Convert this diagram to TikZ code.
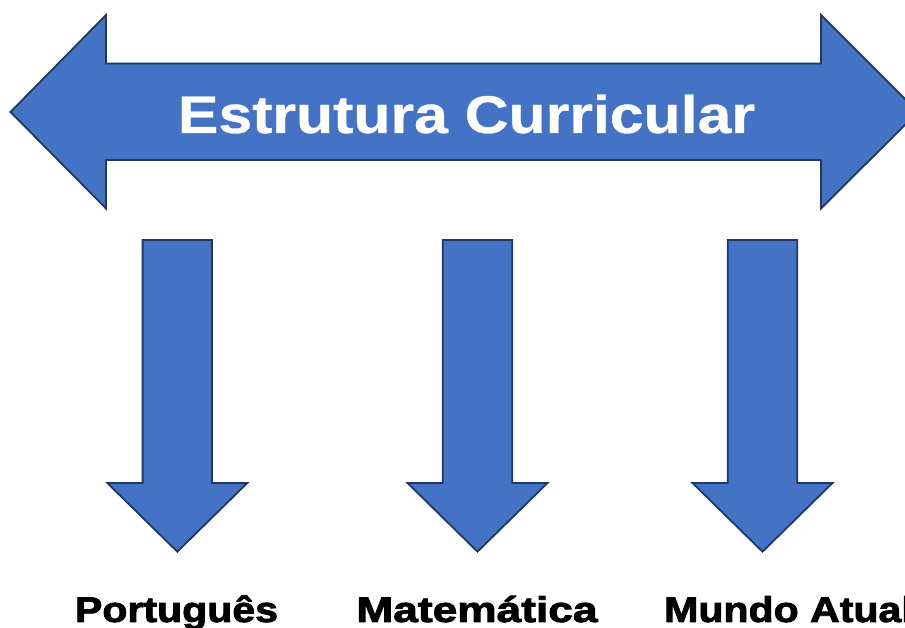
\documentclass[tikz,border=0pt]{standalone}
\usepackage{graphicx}
\usepackage{fontspec}
\setmainfont{Liberation Sans}
\newfontfamily\labelfont[FakeBold=2.2]{Liberation Sans Bold}
\newfontfamily\titlefont[FakeBold=0.6]{Liberation Sans Bold}
\definecolor{arrowfill}{HTML}{4472C4}
\definecolor{arrowline}{HTML}{1F3864}
\tikzset{
  blockarrow/.style={fill=arrowfill, draw=arrowline, line width=1.8pt, line join=miter},
  titletext/.style={text=white, font=\titlefont\fontsize{53}{60}\selectfont, anchor=base, inner sep=0pt},
  labeltext/.style={text=black, font=\labelfont\fontsize{35.7}{40}\selectfont, anchor=base, inner sep=0pt}
}
\begin{document}
\begin{tikzpicture}[x=1pt,y=1pt]
\useasboundingbox (0,0) rectangle (905,628);
\clip (0,0) rectangle (905,628);
% big double arrow
\draw[blockarrow] (10.5,516) -- (106,613) -- (106,564.5) -- (821,564.5) -- (821,613)
  -- (918,516) -- (821,419.5) -- (821,468) -- (106,468) -- (106,419.5) -- cycle;
\node[titletext] (title) at (466.5,495) {\scalebox{1.146}[1]{Estrutura Curricular}};
% down arrows
\foreach \cx/\nm in {177.3/a, 477.5/b, 762.5/c}{
  \draw[blockarrow] (\cx-34.7,388) -- (\cx+34.7,388) -- (\cx+34.7,145) -- (\cx+70,145)
    -- (\cx,76.3) -- (\cx-70,145) -- (\cx-34.7,145) -- cycle;
}
\node[labeltext] (port) at (176.5,6) {\scalebox{1.15}[1]{Português}};
\node[labeltext] (mat) at (477,6) {\scalebox{1.24}[1]{Matemática}};
\node[labeltext, anchor=base west] (mundo) at (664,6) {\scalebox{1.15}[1]{Mundo Atual}};
\end{tikzpicture}
\end{document}
